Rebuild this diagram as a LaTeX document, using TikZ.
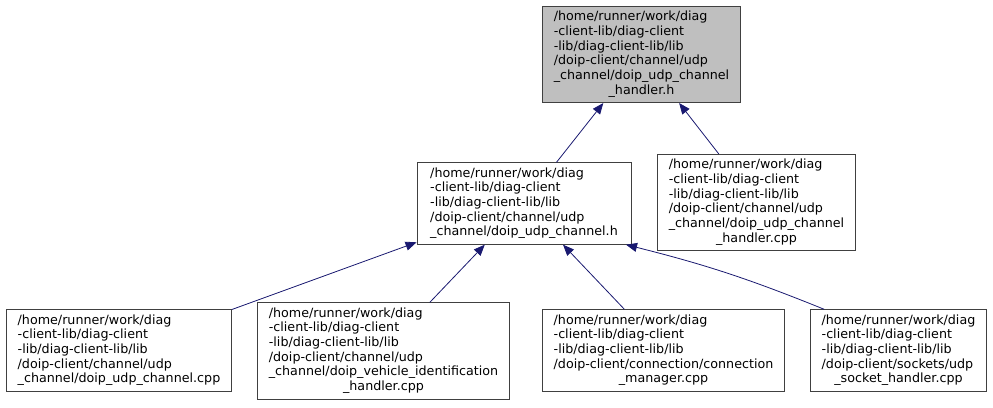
\documentclass[tikz,border=0pt]{standalone}
\usepackage{fontspec}
\setmainfont{DejaVu Sans}
\usepackage{xcolor}
\usepackage{array}
\usepackage{tikz}
\usetikzlibrary{arrows.meta}

\definecolor{edgeblue}{HTML}{191970}
\definecolor{hdrgray}{HTML}{BFBFBF}
\definecolor{boxline}{HTML}{404040}

% last line of a file box is centred
\newcommand{\lastline}[1]{\multicolumn{1}{@{}c@{}}{#1}}
\newcommand{\fpath}[1]{\begin{tabular}{@{}l@{}}#1\end{tabular}}

\tikzset{
  filebox/.style={draw=boxline, rectangle, line width=0.9pt, fill=white,
    inner xsep=11pt, inner ysep=4pt,
    font=\fontsize{12.7}{14.7}\selectfont},
  hdrbox/.style={filebox, fill=hdrgray},
  dep/.style={edgeblue, line width=0.8pt, -{Triangle[length=11pt,width=9pt]}}
}

\begin{document}
\begin{tikzpicture}[x=1pt, y=-1pt]
  \useasboundingbox (0,0) rectangle (993,407);

  % Header (top row)
  \node (hdr) [hdrbox] at (641.5,54.5) {\fpath{/home/runner/work/diag\\-client-lib/diag-client\\-lib/diag-client-lib/lib\\/doip-client/channel/udp\\\_channel/doip\_udp\_channel\\\lastline{\_handler.h}}};

  % Includers (middle row)
  \node (chan) [filebox, minimum width=214] at (524,203.5) {\fpath{/home/runner/work/diag\\-client-lib/diag-client\\-lib/diag-client-lib/lib\\/doip-client/channel/udp\\\_channel/doip\_udp\_channel.h}};
  \node (hdlcpp) [filebox] at (756.5,202.5) {\fpath{/home/runner/work/diag\\-client-lib/diag-client\\-lib/diag-client-lib/lib\\/doip-client/channel/udp\\\_channel/doip\_udp\_channel\\\lastline{\_handler.cpp}}};
  \draw[dep] (chan) -- (hdr);
  \draw[dep] (hdlcpp) -- (hdr);

  % Sources (bottom row)
  \node (chancpp) [filebox] at (119,350.5) {\fpath{/home/runner/work/diag\\-client-lib/diag-client\\-lib/diag-client-lib/lib\\/doip-client/channel/udp\\\_channel/doip\_udp\_channel.cpp}};
  \node (vehid) [filebox] at (383.5,351) {\fpath{/home/runner/work/diag\\-client-lib/diag-client\\-lib/diag-client-lib/lib\\/doip-client/channel/udp\\\_channel/doip\_vehicle\_identification\\\lastline{\_handler.cpp}}};
  \node (connmgr) [filebox] at (663.5,350.5) {\fpath{/home/runner/work/diag\\-client-lib/diag-client\\-lib/diag-client-lib/lib\\/doip-client/connection/connection\\\lastline{\_manager.cpp}}};
  \node (sockhdl) [filebox] at (898.5,350.5) {\fpath{/home/runner/work/diag\\-client-lib/diag-client\\-lib/diag-client-lib/lib\\/doip-client/sockets/udp\\\lastline{\_socket\_handler.cpp}}};
  \draw[dep] (chancpp) -- (chan);
  \draw[dep] (vehid) -- (chan);
  \draw[dep] (connmgr) -- (chan);
  \draw[dep] (sockhdl.151) to[bend right=4] (chan.-22);
\end{tikzpicture}
\end{document}
